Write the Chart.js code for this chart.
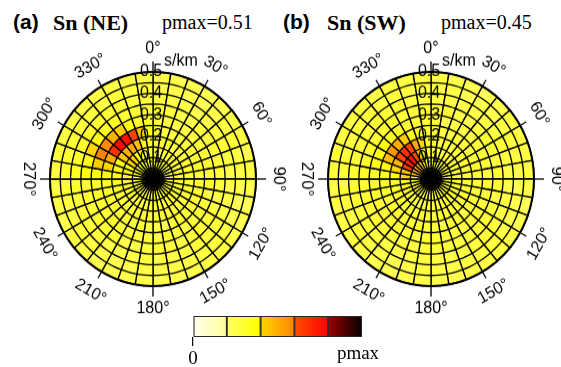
<!DOCTYPE html>
<html><head><meta charset="utf-8">
<script src="https://cdn.jsdelivr.net/npm/chart.js@4"></script>
<style>
html,body{margin:0;padding:0;background:#fff;width:561px;height:367px;overflow:hidden;position:relative}
canvas{position:absolute}
.polar{transform:scaleY(1.04);transform-origin:50% 50%}
.t{position:absolute;white-space:nowrap;color:#000;line-height:1}
.lab{font:bold 21px "Liberation Sans",Arial,sans-serif;top:10px}
.nm{font:bold 22px "Liberation Serif","Times New Roman",serif;top:10px}
.pm{font:20px "Liberation Serif","Times New Roman",serif;top:11px}
</style></head><body>
<div class="t lab" style="left:13px">(a)</div>
<div class="t nm" style="left:53px">Sn (NE)</div>
<div class="t pm" style="left:162px">pmax=0.51</div>
<div class="t lab" style="left:283px">(b)</div>
<div class="t nm" style="left:327px">Sn (SW)</div>
<div class="t pm" style="left:441px">pmax=0.45</div>
<canvas id="pa" class="polar" width="280" height="280" style="left:13px;top:39px"></canvas>
<canvas id="pb" class="polar" width="280" height="280" style="left:291px;top:39px"></canvas>
<canvas id="cb" width="260" height="67" style="left:150px;top:300px"></canvas>
<script>
// ---------------- data ----------------
const azimuthBins = [0,10,20,30,40,50,60,70,80,90,100,110,120,130,140,150,160,170,180,190,200,210,220,230,240,250,260,270,280,290,300,310,320,330,340,350];
const ringEdges = [0.05,0.10,0.15,0.20,0.25,0.30,0.35,0.40,0.45,0.50]; // slowness s/km
const radialTicks = [0.1,0.2,0.3,0.4,0.5];
const angleLabels = [0,30,60,90,120,150,180,210,240,270,300,330];
const colorbarSteps = [0.2,0.2,0.2,0.2,0.2];
const colorbarTicks = [0,1];
const colorbarTickLabels = ['0','pmax'];

// relative power (% of colour-scale range), rows = rings (inner -> outer), cols = azimuth bins
const powerNE = [
 [28,28,29,28,27,28,28,29,28,28,27,28,28,29,28,28,27,28,28,28,29,28,28,27,28,29,28,28,30,31,32,33,32,30,29,28],
 [27,28,28,27,28,29,28,27,28,28,29,28,27,28,28,29,28,27,28,28,27,28,29,28,28,29,30,31,33,35,36,36,34,32,30,28],
 [28,27,28,29,28,27,27,28,29,28,27,28,29,28,27,28,29,28,27,28,28,29,28,28,29,30,31,33,35,38,40,41,39,35,31,29],
 [27,28,27,26,27,28,29,28,27,28,29,28,27,27,28,29,28,27,28,29,28,27,28,29,30,31,33,35,36,38,44,50,50,45,37,31],
 [28,27,26,25,26,27,28,29,28,27,28,29,28,27,28,27,26,27,28,29,28,27,28,29,30,31,33,36,40,50,68,78,76,62,45,33],
 [27,26,24,24,25,27,28,28,27,28,28,27,28,27,26,27,28,28,27,26,27,28,29,28,29,30,33,37,42,60,58,48,42,36,31,29],
 [28,27,25,24,26,27,28,27,28,27,26,27,28,28,27,26,27,28,27,26,25,27,28,29,28,29,31,38,36,40,38,34,31,29,28,28],
 [27,26,24,23,25,26,27,26,25,24,25,26,27,28,27,26,25,26,27,25,24,25,27,28,27,28,30,32,31,30,30,29,28,28,27,27],
 [26,25,23,22,24,26,27,26,25,23,22,24,26,27,26,25,24,25,26,24,23,24,26,27,26,27,28,29,28,28,27,27,26,27,26,26],
 [25,24,23,22,23,25,26,26,25,23,22,23,25,26,25,24,23,24,25,24,23,23,25,26,25,26,27,27,27,26,26,26,25,26,25,25]
];
const powerSW = [
 [28,28,29,28,27,28,28,29,28,28,27,28,28,29,28,28,27,28,28,28,29,28,28,27,28,30,32,35,38,40,42,40,36,32,30,29],
 [27,28,28,27,28,29,28,27,28,28,29,28,27,28,28,29,28,27,28,28,27,28,29,28,29,31,34,38,44,48,50,48,44,38,32,29],
 [28,27,28,29,28,27,27,28,29,28,27,28,29,28,27,28,29,28,27,28,28,29,28,29,30,32,35,40,45,64,72,74,62,48,36,30],
 [27,28,27,26,27,28,29,28,27,28,29,28,27,27,28,29,28,27,28,29,28,27,28,29,30,31,33,36,40,48,62,68,62,52,40,32],
 [28,27,26,25,26,27,28,29,28,27,28,29,28,27,28,27,26,27,28,29,28,27,28,29,29,30,32,34,38,46,56,50,42,36,31,29],
 [27,26,25,24,25,27,28,28,27,28,28,27,28,27,26,27,28,28,27,26,27,28,29,28,28,29,30,32,35,37,38,34,31,29,28,28],
 [28,27,25,24,26,27,28,27,28,27,26,27,28,28,27,26,27,28,27,26,25,27,28,29,28,28,29,30,31,31,30,29,28,28,28,28],
 [27,26,25,24,25,26,27,26,25,24,25,26,27,28,27,26,25,26,27,25,24,25,27,28,27,28,29,29,29,29,28,28,28,28,27,27],
 [26,25,24,23,24,26,27,26,25,23,23,24,26,27,26,25,24,25,26,24,23,24,26,27,26,27,27,28,28,27,27,27,26,27,26,26],
 [25,24,23,22,23,25,26,26,25,23,22,23,25,26,25,24,23,24,25,24,23,23,25,26,25,26,26,27,27,26,26,26,25,26,25,25]
];

// ---------------- colour map ----------------
const segColors = [
 [[255,255,242],[255,255,150]],
 [[255,255,95],[255,255,0]],
 [[255,214,0],[255,132,0]],
 [[255,78,0],[255,0,0]],
 [[155,0,0],[8,0,0]]
];
function rgb(c){return 'rgb('+c.map(Math.round).join(',')+')';}
function heatColor(p){
  let v = Math.max(0, Math.min(0.9999, p/100));
  const i = Math.floor(v/0.2), t = (v - i*0.2)/0.2;
  const [a,b] = segColors[i];
  return rgb(a.map((x,k)=>x+(b[k]-x)*t));
}

// ---------------- polar panels ----------------
const polarDecor = {
  id:'polarDecor',
  afterDatasetsDraw(chart){
    const s = chart.scales.r, ctx = chart.ctx;
    const xc = s.xCenter, yc = s.yCenter, R = s.getDistanceFromCenterForValue(s.max);
    ctx.save();
    ctx.strokeStyle = '#000';
    ctx.lineWidth = 2;
    ctx.beginPath(); ctx.arc(xc,yc,R,0,2*Math.PI); ctx.stroke();
    ctx.lineWidth = 1.3;
    angleLabels.forEach(a=>{
      const th = a*Math.PI/180, len = (a%90===0)?10:7;
      ctx.beginPath();
      ctx.moveTo(xc+R*Math.sin(th), yc-R*Math.cos(th));
      ctx.lineTo(xc+(R+len)*Math.sin(th), yc-(R+len)*Math.cos(th));
      ctx.stroke();
    });
    ctx.fillStyle = '#000';
    ctx.font = '16px "Liberation Sans", Arial, sans-serif';
    ctx.textAlign = 'center'; ctx.textBaseline = 'middle';
    angleLabels.forEach(a=>{
      const th = a*Math.PI/180, d = R+22;
      let rot = a%180; if (rot>90) rot -= 180;
      ctx.save();
      ctx.translate(xc+d*Math.sin(th), yc-d*Math.cos(th));
      ctx.rotate(rot*Math.PI/180);
      ctx.fillText(a+'°',0,0);
      ctx.restore();
    });
    radialTicks.forEach(v=>{
      const d = s.getDistanceFromCenterForValue(v);
      ctx.fillText(v.toFixed(1), xc-2, yc-d);
    });
    ctx.textAlign = 'left';
    ctx.fillText('s/km', xc+11, yc-R-10);
    ctx.restore();
  }
};

function polarChart(id, grid){
  new Chart(document.getElementById(id), {
    type:'polarArea',
    data:{
      labels: azimuthBins.map(a=>a+'°'),
      datasets: ringEdges.map((edge,k)=>({
        label: 'ring '+edge,
        data: azimuthBins.map(()=>edge),
        backgroundColor: grid[k].map(heatColor),
        borderColor:'#000',
        borderWidth:1.35,
        clip:false
      }))
    },
    options:{
      responsive:false, animation:false, events:[],
      layout:{padding:37},
      plugins:{legend:{display:false}, tooltip:{enabled:false}},
      scales:{ r:{ min:0, max:0.5, display:false, startAngle:0 } }
    },
    plugins:[polarDecor]
  });
}
polarChart('pa', powerNE);
polarChart('pb', powerSW);

// ---------------- colour bar ----------------
function segGradient(c, i){
  const chart = c.chart;
  if (!chart.chartArea) return rgb(segColors[i][0]);
  const x = chart.scales.x;
  let start = 0; for (let k=0;k<i;k++) start += colorbarSteps[k];
  const x0 = x.getPixelForValue(start), x1 = x.getPixelForValue(start+colorbarSteps[i]);
  const g = chart.ctx.createLinearGradient(x0,0,x1,0);
  g.addColorStop(0, rgb(segColors[i][0]));
  g.addColorStop(1, rgb(segColors[i][1]));
  return g;
}
const cbFont = '"Liberation Serif", "Times New Roman", serif';
const pmaxLabel = {
  id:'pmaxLabel',
  afterDraw(chart){
    const ctx = chart.ctx, x = chart.scales.x;
    ctx.save();
    ctx.fillStyle = '#000';
    ctx.font = '19px ' + cbFont;
    ctx.textAlign = 'center'; ctx.textBaseline = 'alphabetic';
    ctx.fillText(colorbarTickLabels[1], x.getPixelForValue(colorbarTicks[1]) - 4, chart.chartArea.bottom + 22);
    ctx.restore();
  }
};
new Chart(document.getElementById('cb'), {
  type:'bar',
  data:{
    labels:['p'],
    datasets: colorbarSteps.map((w,i)=>({
      data:[w],
      backgroundColor:(c)=>segGradient(c,i),
      borderColor:'#2a2a2a', borderWidth:1.3, borderSkipped:false,
      barPercentage:1, categoryPercentage:1
    }))
  },
  options:{
    indexAxis:'y', responsive:false, animation:false, events:[],
    layout:{padding:{left:43,right:48,top:16,bottom:0}},
    plugins:{legend:{display:false}, tooltip:{enabled:false}},
    scales:{
      x:{ stacked:true, min:0, max:1,
          afterBuildTicks:(sc)=>{ sc.ticks = colorbarTicks.map(v=>({value:v})); },
          afterFit:(sc)=>{ sc.height = 30; },
          border:{display:false},
          grid:{ drawOnChartArea:false, tickLength:9, lineWidth:1.2,
                 color:(c)=> c.index===0 ? '#000' : 'rgba(0,0,0,0)' },
          ticks:{ padding:2, color:'#000', maxRotation:0, autoSkip:false,
                  font:{family:cbFont, size:19},
                  callback:(v,i)=> i===0 ? colorbarTickLabels[0] : '' } },
      y:{ stacked:true, display:false }
    }
  },
  plugins:[pmaxLabel]
});
</script>
</body></html>
